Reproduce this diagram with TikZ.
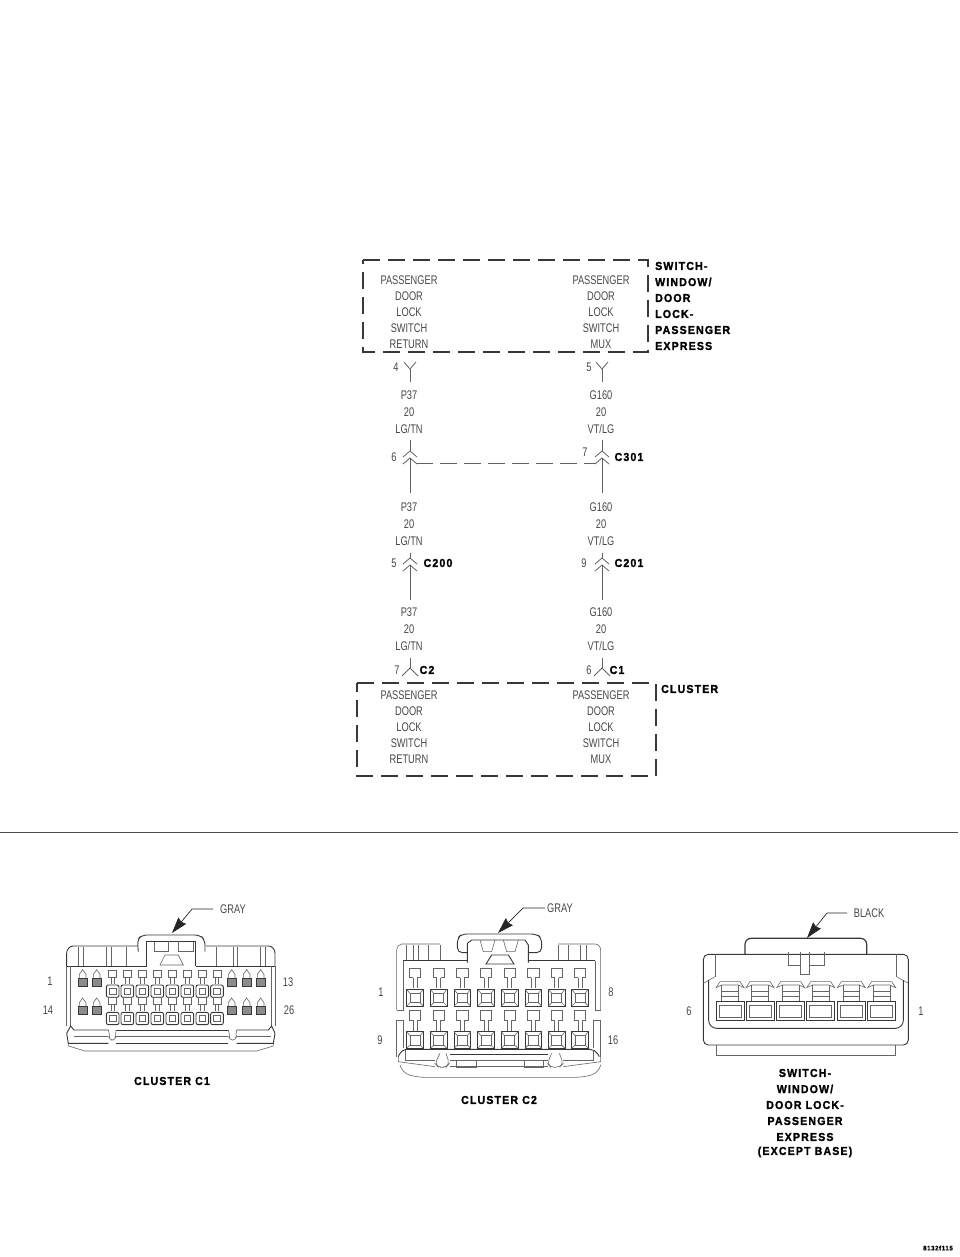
\documentclass[tikz,border=0pt]{standalone}
\usepackage{fontspec}
\setmainfont{Liberation Sans}
\newfontfamily\headfont[LetterSpace=11,BoldFeatures={FakeBold=1.6}]{Liberation Sans}
\usetikzlibrary{arrows.meta}

\tikzset{
  thinlab/.style={font=\fontsize{12.5}{13}\selectfont, text=black!72, xscale=0.74, inner sep=0pt},
  headlab/.style={font=\headfont\bfseries\fontsize{11.5}{12}\selectfont, text=black, xscale=0.92, inner sep=0pt},
  wire/.style={draw=black!62, line width=0.8pt},
  dashbox/.style={draw=black!78, line width=1.3pt, dash pattern=on 17pt off 8pt},
  part/.style={draw=black!60, line width=0.6pt},
  partdark/.style={draw=black!78, line width=0.9pt},
  pointer/.style={draw=black!85, line width=0.7pt, -{Stealth[length=16pt,width=10pt,inset=1.5pt]}},
  forkdown/.pic={\draw[wire] (-6,0) -- (0,7) -- (6,0);},
  forkup/.pic={\draw[wire] (-8,8) -- (0,0) -- (8,8);},
  chevrons/.pic={\draw[wire] (-7,6) -- (0,0) -- (7,6);
                 \draw[wire] (-7,13) -- (0,7) -- (7,13);},
}

\begin{document}
\begin{tikzpicture}[x=1pt, y=-1pt]
\useasboundingbox (0,0) rectangle (960,1257);

% dashed boxes
\draw[dashbox] (363,260) -- (648,260) -- (648,352) -- (363,352) -- cycle;
\draw[dashbox] (357,683) -- (656,683) -- (656,776) -- (357,776) -- cycle;

% two wire columns
\foreach \col/\xc/\wname/\wcolor/\lastrow in {L/409/P37/{LG/TN}/RETURN, R/601/G160/{VT/LG}/MUX}{
  \foreach \boxy/\rowtag in {280/a, 695/b}{
    \node[thinlab] (pass\col\rowtag) at (\xc,\boxy) {PASSENGER};
    \node[thinlab] (door\col\rowtag) at (\xc,\boxy+16) {DOOR};
    \node[thinlab] (lock\col\rowtag) at (\xc,\boxy+32) {LOCK};
    \node[thinlab] (swit\col\rowtag) at (\xc,\boxy+48) {SWITCH};
    \node[thinlab] (last\col\rowtag) at (\xc,\boxy+64) {\lastrow};
  }
  \foreach \wirey/\rowtag in {395/a, 507/b, 612/c}{
    \node[thinlab] (circ\col\rowtag) at (\xc,\wirey) {\wname};
    \node[thinlab] (gage\col\rowtag) at (\xc,\wirey+17) {20};
    \node[thinlab] (colr\col\rowtag) at (\xc,\wirey+34) {\wcolor};
  }
  % wire pieces and connector marks
  \coordinate (topY\col) at (\xc+1,369);
  \coordinate (topE\col) at (\xc+1,382);
  \coordinate (upA\col) at (\xc+1,440);
  \coordinate (upB\col) at (\xc+1,451);
  \coordinate (upC\col) at (\xc+1,458);
  \coordinate (upD\col) at (\xc+1,493);
  \coordinate (miA\col) at (\xc+1,553);
  \coordinate (miB\col) at (\xc+1,558);
  \coordinate (miC\col) at (\xc+1,565);
  \coordinate (miD\col) at (\xc+1,600);
  \coordinate (loA\col) at (\xc+1,658);
  \coordinate (loB\col) at (\xc+1,668);
  \draw[wire] (topY\col) -- (topE\col);
  \draw[wire] (upA\col) -- (upB\col);
  \draw[wire] (upC\col) -- (upD\col);
  \draw[wire] (miA\col) -- (miB\col);
  \draw[wire] (miC\col) -- (miD\col);
  \draw[wire] (loA\col) -- (loB\col);
  \pic at (\xc+1,362) {forkdown};
  \pic at (upB\col) {chevrons};
  \pic at (miB\col) {chevrons};
  \pic at (loB\col) {forkup};
}
\coordinate (spliceL) at (416,463);
\coordinate (spliceR) at (596,463);
\draw[wire, dash pattern=on 17pt off 7pt] (spliceL) -- (spliceR);

% pin numbers on the wires
\foreach \pname/\px/\py/\ptxt in {pa/396/367/4, pb/589/367/5, pc/394/457/6, pd/585/452/7,
    pe/394/563/5, pf/584/563/9, pg/397/670/7, ph/589/670/6}{
  \node[thinlab] (\pname) at (\px,\py) {\ptxt};
}
% connector names
\foreach \cname/\cx/\cy/\ctxt in {ca/629/457/C301, cb/438/563/C200, cc/629/563/C201, cd/427/670/C2, ce/617/670/C1}{
  \node[headlab] (\cname) at (\cx,\cy) {\ctxt};
}
\foreach \tname/\ty/\ttxt in {ta/266/SWITCH-, tb/282/{WINDOW/}, tc/298/DOOR, td/314/LOCK-, te/330/PASSENGER, tf/346/EXPRESS}{
  \node[headlab, anchor=west] (\tname) at (655,\ty) {\ttxt};
}
\node[headlab, anchor=west] (clustertitle) at (661,689) {CLUSTER};

\coordinate (ruleL) at (0,832);
\coordinate (ruleR) at (958,832);
\draw[black!70, line width=0.8pt] (ruleL) -- (ruleR);

% ---- connector C1, drawn in 3x crop units
\begin{scope}[shift={(30,890)}, scale=1/3]
  \draw[partdark] (110,228) -- (110,190) to[out=90,in=180] (130,168) -- (322,168);
  \draw[partdark] (528,168) -- (715,168) to[out=0,in=90] (735,190) -- (735,228);
  \draw[partdark] (110,228) -- (350,228);
  \draw[partdark] (498,228) -- (735,228);
  \draw[part] (122,228) -- (122,408);
  \draw[part] (725,228) -- (725,408);
  \draw[part] (110,228) -- (110,408);
  \draw[part] (735,228) -- (735,408);
  \foreach \ribx in {145,160,230,245,290,560,610,622,690,705}{
    \draw[part] (\ribx,170) -- (\ribx,228);
  }
  % latch
  \draw[partdark, rounded corners=5pt] (325,185) -- (322,150) -- (335,135) -- (510,135) -- (525,150) -- (525,185);
  \draw[partdark] (350,228) -- (350,155) -- (495,155) -- (495,228);
  \draw[part] (372,155) -- (372,185) -- (415,185) -- (415,152);
  \draw[part] (445,152) -- (445,185) -- (490,185) -- (490,155);
  \draw[part] (390,225) -- (405,195) -- (445,195) -- (460,225) -- cycle;
  % small pins
  \foreach \pinx in {158,200,605,650,692}{
    \foreach \piny in {265,350}{
      \draw[part] (\pinx-10,\piny) -- (\pinx-10,\piny-12) -- (\pinx,\piny-26) -- (\pinx+10,\piny-12) -- (\pinx+10,\piny);
      \draw[partdark, fill=black!45] (\pinx-13,\piny) rectangle (\pinx+13,\piny+24);
    }
  }
  % big pins
  \foreach \pinx in {248,292,337,382,427,472,517,561}{
    \foreach \piny in {240,322}{
      \draw[part] (\pinx-12,\piny) rectangle (\pinx+12,\piny+22);
      \draw[part] (\pinx-5,\piny+22) -- (\pinx-5,\piny+42);
      \draw[part] (\pinx+5,\piny+22) -- (\pinx+5,\piny+42);
      \draw[partdark, rounded corners=2pt] (\pinx-19,\piny+45) rectangle (\pinx+19,\piny+82);
      \draw[part] (\pinx-10,\piny+54) rectangle (\pinx+10,\piny+73);
    }
  }
  % lower rail
  \draw[partdark] (110,430) -- (122,408) -- (132,420) -- (235,420);
  \draw[partdark] (258,420) -- (595,420);
  \draw[partdark] (620,420) -- (715,420) -- (725,408) -- (735,430);
  \draw[part] (132,440) -- (235,440);
  \draw[part] (258,440) -- (595,440);
  \draw[part] (620,440) -- (722,440);
  \draw[part, rounded corners=4pt] (235,420) -- (240,432) -- (235,450) -- (258,450) -- (256,432) -- (258,420);
  \draw[part, rounded corners=4pt] (595,420) -- (600,432) -- (595,450) -- (620,450) -- (617,432) -- (620,420);
  \draw[partdark] (110,430) -- (115,460) -- (235,460);
  \draw[partdark] (258,460) -- (595,460);
  \draw[partdark] (620,460) -- (730,460) -- (735,430);
  \draw[part] (115,460) -- (115,468) -- (165,483) -- (680,483) -- (730,468) -- (730,460);
\end{scope}
\node[thinlab] (graya) at (233,909) {GRAY};
\coordinate (grayaend) at (213,909);
\coordinate (grayatip) at (172,933);
\draw[pointer] (grayaend) -- (192,909) -- (grayatip);
\node[thinlab] (n1a) at (50,981) {1};
\node[thinlab] (n14a) at (48,1010) {14};
\node[thinlab] (n13a) at (288,982) {13};
\node[thinlab] (n26a) at (289,1010) {26};
\node[headlab] (labelca) at (172,1081) {CLUSTER C1};

% ---- connector C2
\begin{scope}[shift={(360,890)}, scale=1/3]
  \draw[part] (110,360) -- (110,180) to[out=90,in=180] (125,162) -- (240,162);
  \draw[part] (595,162) -- (705,162) to[out=0,in=90] (722,180) -- (722,360);
  \foreach \ribx in {140,160,175,205,240,595,625,660,680}{
    \draw[part] (\ribx,164) -- (\ribx,212);
  }
  \draw[partdark] (130,212) -- (322,212);
  \draw[partdark] (505,212) -- (705,212);
  \draw[part] (130,212) -- (130,362) -- (110,362);
  \draw[part] (705,212) -- (705,362) -- (722,362);
  \draw[part] (110,390) -- (130,390) -- (130,475);
  \draw[part] (722,390) -- (700,390) -- (700,475);
  \draw[part] (110,390) -- (110,500);
  \draw[part] (722,390) -- (722,500);
  % latch
  \draw[partdark, rounded corners=5pt] (322,188) -- (292,188) -- (292,145) -- (305,132) -- (530,132) -- (545,145) -- (545,188) -- (505,188);
  \draw[partdark] (322,218) -- (322,160) -- (335,150) -- (495,150) -- (505,165) -- (505,218);
  \draw[part] (360,150) -- (370,185) -- (395,185) -- (405,150);
  \draw[part] (430,150) -- (440,185) -- (465,185) -- (475,150);
  \draw[partdark] (378,222) -- (395,195) -- (445,195) -- (462,222) -- cycle;
  % pins
  \foreach \pinx in {165,236,307,378,449,520,590,660}{
    \foreach \piny in {235,362}{
      \draw[part] (\pinx-6,\piny+28) -- (\pinx-17,\piny+28) -- (\pinx-17,\piny) -- (\pinx+17,\piny) -- (\pinx+17,\piny+28) -- (\pinx+6,\piny+28);
      \draw[part] (\pinx-6,\piny+28) -- (\pinx-6,\piny+60);
      \draw[part] (\pinx+6,\piny+28) -- (\pinx+6,\piny+60);
      \draw[partdark] (\pinx-25,\piny+63) rectangle (\pinx+25,\piny+113);
      \draw[part] (\pinx-15,\piny+75) rectangle (\pinx+15,\piny+103);
      \draw[part] (\pinx-25,\piny+63) -- (\pinx-15,\piny+75);
      \draw[part] (\pinx+25,\piny+63) -- (\pinx+15,\piny+75);
      \draw[part] (\pinx-25,\piny+113) -- (\pinx-15,\piny+103);
      \draw[part] (\pinx+25,\piny+113) -- (\pinx+15,\piny+103);
    }
  }
  % lower rail
  \draw[partdark, rounded corners=5pt] (115,500) -- (125,478) -- (705,478) -- (718,500);
  \draw[part] (135,480) -- (135,510) -- (225,510);
  \draw[partdark] (270,492) -- (565,492);
  \draw[part] (270,510) -- (565,510);
  \draw[part] (610,510) -- (700,510) -- (700,480);
  \draw[part] (115,500) -- (115,515) -- (225,530);
  \draw[part] (722,500) -- (722,515) -- (610,530);
  \draw[part] (270,530) -- (565,530);
  \draw[part, rounded corners=4pt] (240,490) -- (225,520) -- (235,532) -- (258,532) -- (268,520) -- (258,490);
  \draw[part, rounded corners=4pt] (575,490) -- (562,520) -- (572,532) -- (598,532) -- (610,520) -- (598,490);
  \draw[part] (290,512) rectangle (348,532);
  \draw[part] (492,512) rectangle (550,532);
  \draw[part, rounded corners=8pt] (120,525) -- (125,548) -- (170,562) -- (670,562) -- (718,548) -- (722,525);
\end{scope}
\node[thinlab] (grayb) at (560,908) {GRAY};
\coordinate (graybend) at (545,908);
\coordinate (graybtip) at (498,933);
\draw[pointer] (graybend) -- (523,908) -- (graybtip);
\node[thinlab] (n1b) at (381,992) {1};
\node[thinlab] (n8b) at (611,992) {8};
\node[thinlab] (n9b) at (380,1040) {9};
\node[thinlab] (n16b) at (613,1040) {16};
\node[headlab] (labelcb) at (499,1100) {CLUSTER C2};

% ---- switch connector
\begin{scope}[shift={(670,895)}, scale=1/3]
  \draw[partdark, line width=1.2pt, rounded corners=6pt] (225,178) -- (225,130) -- (590,130) -- (590,178);
  \draw[partdark, rounded corners=5pt] (100,178) rectangle (715,450);
  \draw[part] (135,178) -- (135,245);
  \draw[part] (680,178) -- (680,245);
  \draw[part] (100,265) -- (135,245);
  \draw[part] (715,265) -- (680,245);
  \draw[partdark, rounded corners=8pt] (116,255) -- (116,400) -- (700,400) -- (700,255);
  \draw[part] (138,450) -- (138,482) -- (675,482) -- (675,450);
  \draw[part] (355,172) -- (355,210) -- (392,210) -- (392,238) -- (418,238) -- (418,210) -- (462,210) -- (462,172);
  \draw[part] (392,172) -- (392,210);
  \draw[part] (418,172) -- (418,210);
  \foreach \pinx in {180,270,362,452,544,635}{
    \draw[part] (\pinx-42,278) -- (\pinx-30,260) -- (\pinx+30,260) -- (\pinx+42,278) -- (\pinx+25,270) -- (\pinx-25,270) -- cycle;
    \draw[part] (\pinx-25,270) -- (\pinx-25,318);
    \draw[part] (\pinx+25,270) -- (\pinx+25,318);
    \draw[part] (\pinx-25,290) -- (\pinx+25,290);
    \draw[part] (\pinx-25,305) -- (\pinx+25,305);
    \draw[partdark] (\pinx-42,318) rectangle (\pinx+42,375);
    \draw[part] (\pinx-33,330) rectangle (\pinx+33,368);
  }
\end{scope}
\node[thinlab] (black) at (869,913) {BLACK};
\coordinate (blackend) at (847,913);
\coordinate (blacktip) at (807,938);
\draw[pointer] (blackend) -- (827,913) -- (blacktip);
\node[thinlab] (n6c) at (689,1011) {6};
\node[thinlab] (n1c) at (921,1011) {1};
\foreach \sname/\sy/\stxt in {sa/1073/SWITCH-, sb/1089/{WINDOW/}, sc/1105/DOOR LOCK-, sd/1121/PASSENGER, se/1137/EXPRESS, sf/1152/(EXCEPT BASE)}{
  \node[headlab] (\sname) at (805,\sy) {\stxt};
}
\node[headlab, font=\headfont\bfseries\fontsize{6.5}{8}\selectfont] (figcode) at (938,1248) {8132f115};
\end{tikzpicture}
\end{document}
